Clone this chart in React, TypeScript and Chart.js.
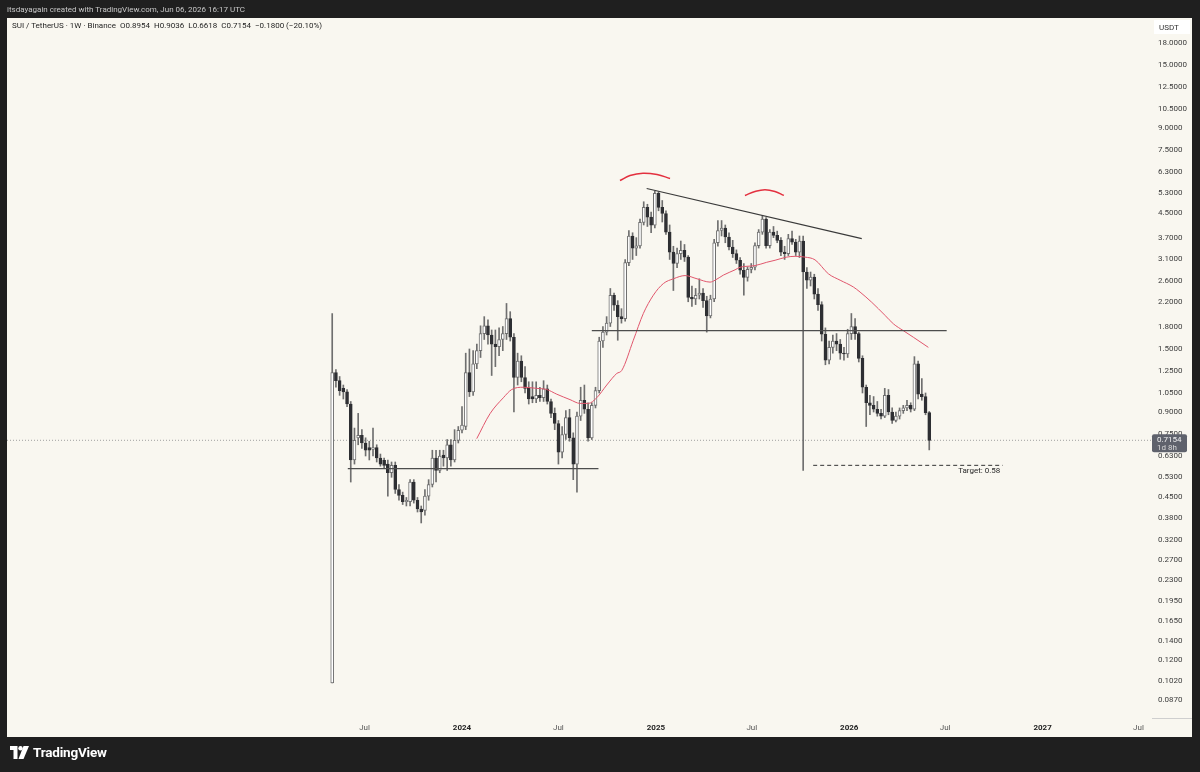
import React, { useEffect, useRef } from 'react';
import { Chart, registerables } from 'chart.js';

Chart.register(...registerables);

// Weekly candles, SUI/USDT (Binance), first week = week of 2023-05-01 (x = week index)
const candleOpen = [
  0.10, 1.24, 1.16, 1.09, 1.06, 0.96, 0.61, 0.73, 0.745, 0.70,
  0.675, 0.665, 0.675, 0.62, 0.608, 0.59, 0.55, 0.584, 0.48, 0.458,
  0.435, 0.435, 0.51, 0.44, 0.41, 0.405, 0.455, 0.50, 0.62, 0.56,
  0.635, 0.62, 0.69, 0.61, 0.715, 0.776, 0.80, 1.24, 1.06, 1.33,
  1.48, 1.70, 1.81, 1.68, 1.56, 1.53, 1.62, 1.70, 1.92, 1.65,
  1.19, 1.36, 1.19, 1.09, 1.02, 1.00, 1.03, 1.01, 1.085, 0.98,
  0.89, 0.82, 0.65, 0.75, 0.86, 0.73, 0.59, 0.87, 0.99, 0.92,
  0.73, 0.95, 1.07, 1.60, 1.72, 1.85, 2.32, 2.14, 1.95, 1.92,
  3.02, 3.75, 3.40, 3.46, 4.19, 4.73, 4.37, 4.09, 5.30, 4.73,
  4.50, 3.87, 3.29, 3.00, 3.25, 3.34, 3.16, 2.28, 2.25, 2.32,
  2.36, 2.22, 1.96, 2.25, 3.55, 3.92, 4.00, 3.72, 3.43, 3.25,
  3.08, 2.84, 2.68, 2.86, 2.91, 3.47, 3.87, 4.30, 3.47, 3.87,
  3.77, 3.62, 3.29, 3.25, 3.67, 3.57, 3.29, 3.60, 2.80, 2.62,
  2.69, 2.34, 2.15, 1.69, 1.37, 1.52, 1.60, 1.56, 1.45, 1.44,
  1.70, 1.80, 1.70, 1.39, 1.10, 0.97, 0.95, 0.92, 0.89, 0.87,
  1.03, 0.90, 0.84, 0.87, 0.91, 0.93, 0.95, 0.92, 1.33, 1.04,
  1.02, 0.8954,
];
const candleHigh = [
  2.00, 1.27, 1.20, 1.12, 1.08, 0.98, 0.79, 0.89, 0.78, 0.73,
  0.71, 0.79, 0.69, 0.64, 0.62, 0.61, 0.60, 0.60, 0.50, 0.47,
  0.45, 0.52, 0.52, 0.45, 0.42, 0.48, 0.52, 0.66, 0.66, 0.66,
  0.66, 0.72, 0.72, 0.78, 0.80, 0.94, 1.45, 1.50, 1.48, 1.56,
  1.81, 1.95, 1.90, 1.75, 1.75, 1.78, 1.80, 2.17, 2.03, 1.70,
  1.45, 1.42, 1.30, 1.15, 1.15, 1.15, 1.10, 1.16, 1.12, 1.00,
  0.93, 0.84, 0.80, 0.91, 0.92, 0.76, 0.90, 1.10, 1.12, 0.97,
  0.97, 1.10, 1.65, 1.80, 1.95, 2.45, 2.36, 2.22, 2.08, 3.10,
  3.92, 3.85, 3.70, 4.30, 4.95, 4.85, 4.55, 5.40, 5.37, 5.00,
  4.60, 4.10, 3.45, 3.40, 3.60, 3.50, 3.20, 2.50, 2.45, 2.65,
  2.45, 2.30, 2.32, 3.65, 4.25, 4.25, 4.10, 3.85, 3.62, 3.35,
  3.15, 3.00, 2.92, 3.00, 3.55, 3.95, 4.42, 4.35, 3.95, 4.05,
  3.90, 3.70, 3.45, 3.80, 3.90, 3.65, 3.75, 3.75, 2.90, 2.80,
  2.75, 2.45, 2.20, 1.78, 1.60, 1.68, 1.70, 1.62, 1.52, 1.76,
  2.00, 1.92, 1.72, 1.42, 1.12, 1.03, 1.02, 0.98, 0.92, 1.09,
  1.08, 0.93, 0.90, 0.93, 0.95, 0.99, 0.97, 1.41, 1.36, 1.18,
  1.05, 0.9036,
];
const candleLow = [
  0.10, 1.10, 1.03, 1.00, 0.94, 0.51, 0.59, 0.69, 0.67, 0.63,
  0.61, 0.63, 0.60, 0.58, 0.57, 0.455, 0.53, 0.465, 0.44, 0.425,
  0.42, 0.42, 0.43, 0.40, 0.366, 0.39, 0.44, 0.49, 0.51, 0.55,
  0.58, 0.56, 0.58, 0.60, 0.70, 0.76, 0.78, 1.02, 1.03, 1.28,
  1.40, 1.62, 1.56, 1.21, 1.30, 1.42, 1.48, 1.62, 1.60, 0.90,
  1.12, 1.15, 1.05, 0.96, 0.97, 0.97, 0.98, 0.98, 0.96, 0.86,
  0.78, 0.59, 0.62, 0.72, 0.71, 0.52, 0.47, 0.84, 0.89, 0.71,
  0.72, 0.93, 1.05, 1.52, 1.68, 1.80, 2.05, 1.61, 1.85, 1.88,
  2.95, 3.10, 3.20, 3.40, 4.10, 4.05, 3.85, 4.00, 4.60, 4.20,
  3.80, 3.10, 2.41, 2.90, 3.10, 3.05, 2.20, 2.12, 2.15, 2.25,
  2.10, 1.72, 1.93, 2.20, 3.45, 3.75, 3.55, 3.35, 3.15, 3.00,
  2.75, 2.32, 2.60, 2.78, 2.85, 3.40, 3.80, 3.40, 3.40, 3.70,
  3.55, 3.20, 3.10, 3.20, 3.50, 3.20, 3.15, 0.56, 2.45, 2.50,
  2.25, 2.05, 1.60, 1.32, 1.33, 1.45, 1.48, 1.38, 1.37, 1.40,
  1.62, 1.62, 1.35, 1.05, 0.80, 0.88, 0.90, 0.87, 0.85, 0.86,
  0.88, 0.82, 0.83, 0.85, 0.89, 0.91, 0.90, 0.91, 1.00, 0.99,
  0.88, 0.6618,
];
const candleClose = [
  1.24, 1.16, 1.07, 1.06, 0.96, 0.61, 0.715, 0.745, 0.70, 0.66,
  0.66, 0.675, 0.62, 0.59, 0.584, 0.55, 0.584, 0.48, 0.458, 0.435,
  0.44, 0.51, 0.44, 0.41, 0.40, 0.455, 0.50, 0.62, 0.56, 0.63,
  0.62, 0.69, 0.61, 0.715, 0.776, 0.81, 1.24, 1.06, 1.33, 1.48,
  1.70, 1.81, 1.68, 1.56, 1.53, 1.62, 1.70, 1.92, 1.65, 1.19,
  1.36, 1.19, 1.09, 1.00, 1.00, 1.03, 1.01, 1.085, 0.98, 0.89,
  0.82, 0.65, 0.75, 0.86, 0.73, 0.59, 0.87, 0.99, 0.92, 0.73,
  0.95, 1.07, 1.60, 1.72, 1.85, 2.32, 2.14, 1.95, 1.92, 3.02,
  3.75, 3.40, 3.46, 4.19, 4.73, 4.37, 4.09, 5.30, 4.73, 4.50,
  3.87, 3.29, 3.00, 3.25, 3.34, 3.16, 2.28, 2.25, 2.32, 2.36,
  2.22, 1.96, 2.25, 3.55, 3.92, 4.00, 3.72, 3.43, 3.25, 3.08,
  2.84, 2.68, 2.86, 2.91, 3.47, 3.87, 4.30, 3.47, 3.87, 3.77,
  3.62, 3.29, 3.25, 3.67, 3.57, 3.29, 3.60, 2.80, 2.62, 2.69,
  2.34, 2.15, 1.69, 1.37, 1.52, 1.60, 1.56, 1.45, 1.44, 1.70,
  1.80, 1.70, 1.39, 1.10, 0.97, 0.95, 0.92, 0.89, 0.87, 1.03,
  0.90, 0.84, 0.87, 0.91, 0.93, 0.95, 0.92, 1.33, 1.04, 1.02,
  0.8954, 0.7154,
];

// Moving average (red line)
const maWeek = [
  38.97, 42.56, 46.14, 48.41, 51.54, 55.15, 57.85, 60.54, 64.13, 66.83,
  69.07, 71.33, 74.03, 76.73, 78.07, 81.2, 83.9, 86.6, 89.3, 92.0,
  95.15, 98.38, 101.89, 103.24, 105.47, 108.63, 109.98, 114.02, 117.18, 119.42,
  122.57, 124.81, 127.5, 130.2, 133.8, 136.97, 140.53, 142.34, 145.5, 149.08,
  151.32, 154.02, 156.72, 160.76,
];
const maValue = [
  0.725, 0.888, 1.01, 1.08, 1.10, 1.09, 1.08, 1.04, 0.995, 0.965,
  0.965, 1.01, 1.12, 1.23, 1.26, 1.61, 2.0, 2.32, 2.55, 2.65,
  2.72, 2.65, 2.58, 2.62, 2.73, 2.85, 2.91, 2.95, 3.03, 3.08,
  3.16, 3.18, 3.16, 3.09, 2.76, 2.62, 2.48, 2.38, 2.19, 1.97,
  1.84, 1.74, 1.65, 1.52,
];

// Drawings
const supportWeek = [4.2, 71.8];
const supportValue = [0.569, 0.569];
const necklineWeek = [70.0, 165.7];
const necklineValue = [1.74, 1.74];
const trendWeek = [84.8, 142.8];
const trendValue = [5.51, 3.67];
const targetWeek = [129.7, 180.8];
const targetValue = [0.584, 0.584];
const arc1Week = [77.6, 80.3, 83.8, 87.6, 91.1];
const arc1Value = [5.88, 6.12, 6.24, 6.17, 5.98];
const arc2Week = [111.3, 114.0, 116.7, 119.4, 121.8];
const arc2Value = [5.21, 5.38, 5.46, 5.38, 5.21];
const targetLabel = 'Target: 0.58';
const targetLabelWeek = 168.8;
const lastPrice = 0.7154;
const countdownLabel = '1d 8h';

// Axes
const priceTicks = [
  18, 15, 12.5, 10.5, 9, 7.5, 6.3, 5.3, 4.5, 3.7, 3.1, 2.6, 2.2, 1.8, 1.5, 1.25,
  1.05, 0.9, 0.75, 0.63, 0.53, 0.45, 0.38, 0.32, 0.27, 0.23, 0.195, 0.165, 0.14,
  0.12, 0.102, 0.087,
];
const timeTickWeek = [8.71, 35, 61, 87.29, 113.14, 139.43, 165.29, 191.57, 217.43];
const timeTickLabel = ['Jul', '2024', 'Jul', '2025', 'Jul', '2026', 'Jul', '2027', 'Jul'];

const X_MIN = -87.7;
const X_MAX = 220.8;
const Y_MIN = 0.07528;
const Y_MAX = 21.96;

const FONT = 'Roboto, "Noto Sans", "Liberation Sans", sans-serif';
const UP_FILL = '#ffffff';
const UP_LINE = '#707070';
const DOWN_FILL = '#2e2f33';
const WICK = '#6f6f6f';
const PANEL = '#f9f7f0';
const DARK = '#1f1f1f';

const pts = (xs: number[], ys: number[]) => xs.map((x, i) => ({ x, y: ys[i] }));

export default function App() {
  const ref = useRef<HTMLCanvasElement | null>(null);

  useEffect(() => {
    if (!ref.current) return;
    const isUp = candleOpen.map((o, i) => candleClose[i] >= o);
    const wicks = candleOpen.map((_, i) => ({ x: i, y: [candleLow[i], candleHigh[i]] }));
    const bodies = candleOpen.map((o, i) => ({
      x: i,
      y: [Math.min(o, candleClose[i]), Math.max(o, candleClose[i])],
    }));

    const overlay = {
      id: 'overlay',
      afterDatasetsDraw(chart: any) {
        const { ctx, scales } = chart;
        const xs = scales.x;
        const ys = scales.y;
        ctx.save();
        ctx.font = `8px ${FONT}`;
        ctx.fillStyle = '#2a2a2a';
        ctx.textBaseline = 'top';
        ctx.textAlign = 'left';
        ctx.fillText(targetLabel, xs.getPixelForValue(targetLabelWeek), ys.getPixelForValue(targetValue[0]) + 2);
        ctx.restore();
      },
      afterDraw(chart: any) {
        const { ctx, scales, chartArea } = chart;
        const ys = scales.y;
        ctx.save();
        // bottom edge of the price scale
        ctx.strokeStyle = '#cfcfcf';
        ctx.lineWidth = 1;
        ctx.beginPath();
        ctx.moveTo(chartArea.right + 1, chartArea.bottom + 0.5);
        ctx.lineTo(1192, chartArea.bottom + 0.5);
        ctx.stroke();
        // USDT box
        ctx.fillStyle = '#ffffff';
        ctx.fillRect(chartArea.right + 3, 20, 36, 14);
        ctx.fillStyle = '#333';
        ctx.font = `8px ${FONT}`;
        ctx.textAlign = 'left';
        ctx.textBaseline = 'middle';
        ctx.fillText('USDT', chartArea.right + 8, 27.5);
        // last price tag
        const py = ys.getPixelForValue(lastPrice);
        ctx.fillStyle = '#5f626c';
        ctx.beginPath();
        const bx = chartArea.right + 1;
        const by = py - 6;
        const bw = 35;
        const bh = 18;
        ctx.roundRect ? ctx.roundRect(bx, by, bw, bh, 2) : ctx.rect(bx, by, bw, bh);
        ctx.fill();
        ctx.fillStyle = '#f2f2f2';
        ctx.font = `8px ${FONT}`;
        ctx.textAlign = 'left';
        ctx.fillText(lastPrice.toFixed(4), bx + 5, py);
        ctx.fillStyle = '#d8d8d8';
        ctx.fillText(countdownLabel, bx + 5, py + 8);
        ctx.restore();
      },
    };

    const lineDs = (data: any[], color: string, width: number, extra: any = {}) => ({
      type: 'line' as const,
      data,
      borderColor: color,
      borderWidth: width,
      pointRadius: 0,
      fill: false,
      tension: 0,
      order: 0,
      ...extra,
    });

    const chart = new Chart(ref.current, {
      type: 'bar',
      data: {
        datasets: [
          lineDs(pts([X_MIN, X_MAX], [lastPrice, lastPrice]), '#a0a0a0', 1, { borderDash: [1, 2], order: 20 }),
          {
            type: 'bar',
            data: wicks as any,
            backgroundColor: WICK,
            barThickness: 1,
            grouped: false,
            order: 10,
          },
          {
            type: 'bar',
            data: bodies as any,
            backgroundColor: isUp.map((u) => (u ? UP_FILL : DOWN_FILL)),
            borderColor: isUp.map((u) => (u ? UP_LINE : DOWN_FILL)),
            borderWidth: 1,
            borderSkipped: false,
            barThickness: 3,
            minBarLength: 1,
            grouped: false,
            order: 9,
          },
          lineDs(pts(maWeek, maValue), '#e0566c', 1, { cubicInterpolationMode: 'monotone', order: 1 }),
          lineDs(pts(supportWeek, supportValue), '#4d4d4d', 1.2),
          lineDs(pts(necklineWeek, necklineValue), '#4d4d4d', 1.2),
          lineDs(pts(trendWeek, trendValue), '#3a3a3a', 1.2),
          lineDs(pts(targetWeek, targetValue), '#333333', 1, { borderDash: [4, 3] }),
          lineDs(pts(arc1Week, arc1Value), '#e3303f', 1.5, { tension: 0.4 }),
          lineDs(pts(arc2Week, arc2Value), '#e3303f', 1.5, { tension: 0.4 }),
        ] as any,
      },
      options: {
        responsive: false,
        animation: false,
        devicePixelRatio: 1,
        events: [],
        layout: { padding: { left: 7, top: 18, right: 0, bottom: 0 } },
        plugins: { legend: { display: false }, tooltip: { enabled: false } },
        scales: {
          x: {
            type: 'linear',
            min: X_MIN,
            max: X_MAX,
            offset: false,
            grid: { display: false, drawTicks: false },
            border: { display: false },
            afterBuildTicks: (s: any) => {
              s.ticks = timeTickWeek.map((w) => ({ value: w }));
            },
            afterFit: (s: any) => {
              s.height = 54;
            },
            ticks: {
              autoSkip: false,
              maxRotation: 0,
              padding: 5,
              callback: (_v: any, i: number) => timeTickLabel[i],
              font: (c: any) => ({
                size: 8,
                family: FONT,
                weight: timeTickLabel[c.index] && timeTickLabel[c.index].length === 4 ? 'bold' : 'normal',
              }),
              color: (c: any) =>
                timeTickLabel[c.index] && timeTickLabel[c.index].length === 4 ? '#222' : '#555',
            },
          },
          y: {
            type: 'logarithmic',
            position: 'right',
            min: Y_MIN,
            max: Y_MAX,
            bounds: 'data',
            grid: { display: false, drawTicks: false },
            border: { display: false },
            afterBuildTicks: (s: any) => {
              s.ticks = priceTicks.map((v) => ({ value: v }));
            },
            afterFit: (s: any) => {
              s.width = 49;
            },
            ticks: {
              autoSkip: false,
              padding: 7,
              callback: (v: any) => Number(v).toFixed(4),
              font: { size: 8, family: FONT },
              color: '#3c3c3c',
            },
          },
        },
      } as any,
      plugins: [overlay],
    });
    return () => chart.destroy();
  }, []);

  return (
    <div
      style={{
        position: 'fixed',
        left: 0,
        top: 0,
        width: 1200,
        height: 772,
        background: DARK,
        overflow: 'hidden',
        fontFamily: FONT,
      }}
    >
      <div
        style={{
          position: 'absolute',
          left: 7,
          top: 18,
          width: 1185,
          height: 719,
          background: PANEL,
        }}
      />
      <canvas
        ref={ref}
        width={1200}
        height={772}
        style={{ position: 'absolute', left: 0, top: 0, width: 1200, height: 772, display: 'block' }}
      />
      <div
        style={{
          position: 'absolute',
          left: 7,
          top: 4,
          fontSize: 8,
          color: '#c8c8c8',
          whiteSpace: 'nowrap',
          lineHeight: '12px',
        }}
      >
        itsdayagain created with TradingView.com, Jun 06, 2026 16:17 UTC
      </div>
      <div
        style={{
          position: 'absolute',
          left: 12,
          top: 20,
          fontSize: 8,
          color: '#1f1f1f',
          whiteSpace: 'pre',
          lineHeight: '12px',
        }}
      >
        {'SUI / TetherUS · 1W · Binance  O0.8954  H0.9036  L0.6618  C0.7154  −0.1800 (−20.10%)'}
      </div>
      <div
        style={{
          position: 'absolute',
          left: 10,
          top: 744,
          display: 'flex',
          alignItems: 'center',
          gap: 4,
        }}
      >
        <svg width="19" height="13" viewBox="0 0 19 13">
          <path d="M0 0 H7.5 V13 H3.5 V4 H0 Z" fill="#ffffff" />
          <circle cx="10.5" cy="2.2" r="2.2" fill="#ffffff" />
          <path d="M13.5 0 H19 L13.5 13 H8.5 Z" fill="#ffffff" />
        </svg>
        <span style={{ color: '#ffffff', fontWeight: 700, fontSize: 13.5, letterSpacing: -0.2 }}>
          TradingView
        </span>
      </div>
    </div>
  );
}
